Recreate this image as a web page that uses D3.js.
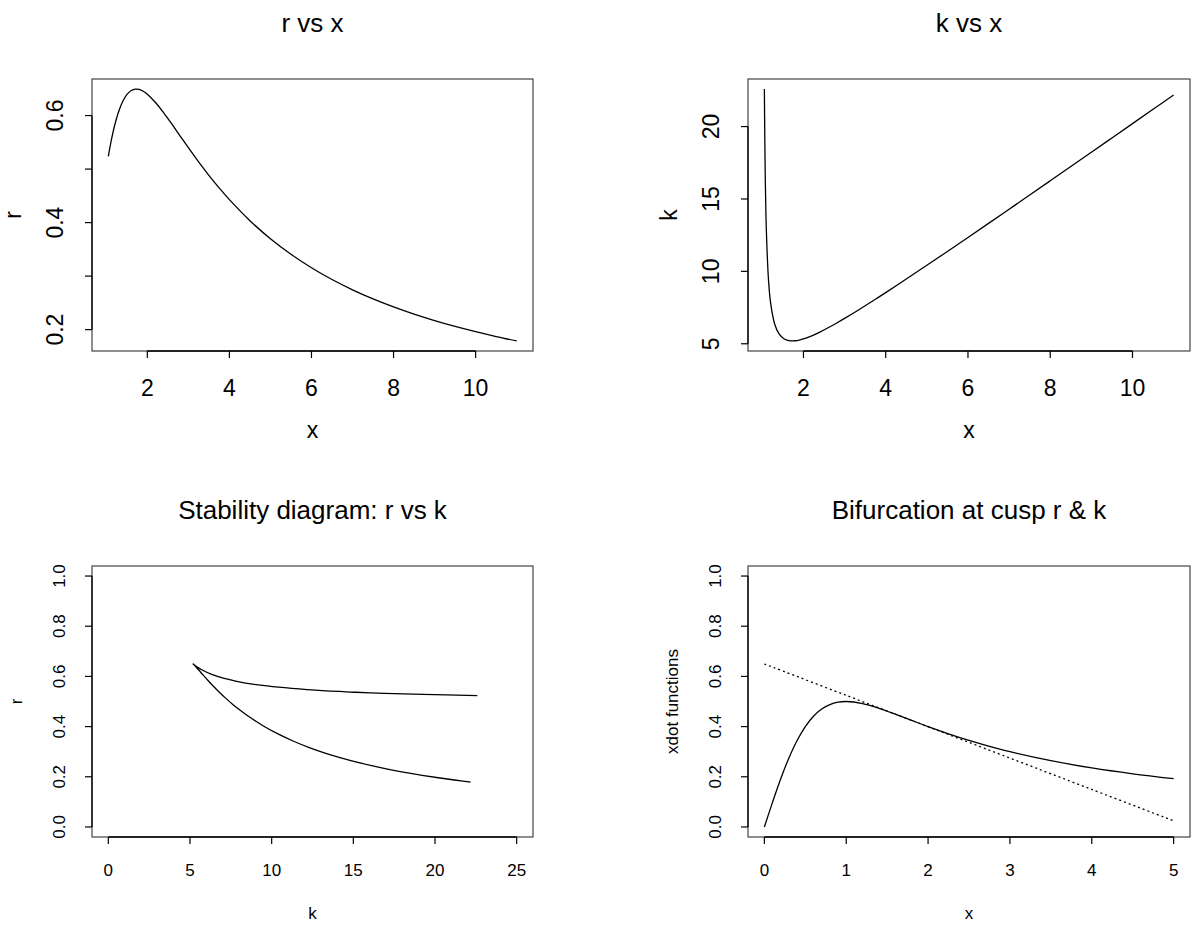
<!DOCTYPE html>
<html>
<head>
<meta charset="utf-8">
<script src="https://cdn.jsdelivr.net/npm/d3@7"></script>
<style>
  body { margin: 0; background: #fff; }
  text { font-family: "Liberation Sans", Arial, Helvetica, sans-serif; fill: #000; }
</style>
</head>
<body>
<div id="chart"></div>
<script>
// x values along the equilibrium curve
const xVals = [1.05, 1.06, 1.07, 1.08, 1.1, 1.15, 1.2, 1.3, 1.4, 1.5, 1.6, 1.7, 1.732, 1.8, 1.9, 2.0,
  2.2, 2.4, 2.6, 2.8, 3.0, 3.25, 3.5, 3.75, 4.0, 4.5, 5.0, 5.5, 6.0, 6.5, 7.0, 7.5, 8.0, 8.5,
  9.0, 9.5, 10.0, 10.5, 11.0];
const rVals = [0.5238, 0.5282, 0.5326, 0.5368, 0.5450, 0.5639, 0.5805, 0.6072, 0.6264, 0.6391,
  0.6464, 0.6493, 0.6495, 0.6488, 0.6455, 0.64, 0.6244, 0.6050, 0.5838, 0.5618, 0.54, 0.5135,
  0.4884, 0.4649, 0.4429, 0.4036, 0.3698, 0.3407, 0.3156, 0.2936, 0.2744, 0.2574, 0.2424,
  0.2289, 0.2168, 0.2059, 0.1961, 0.1871, 0.1789];
const kVals = [22.59, 19.27, 16.91, 15.14, 12.68, 9.43, 7.855, 6.368, 5.717, 5.4, 5.251, 5.199,
  5.196, 5.207, 5.256, 5.333, 5.546, 5.808, 6.103, 6.419, 6.75, 7.18, 7.622, 8.074, 8.533,
  9.468, 10.417, 11.376, 12.343, 13.315, 14.292, 15.271, 16.254, 17.239, 18.225, 19.213,
  20.202, 21.192, 22.183];

// bifurcation panel
const xdotX = [0, 0.1, 0.2, 0.3, 0.4, 0.5, 0.6, 0.7, 0.8, 0.9, 1.0, 1.2, 1.4, 1.6, 1.8, 2.0,
  2.25, 2.5, 2.75, 3.0, 3.5, 4.0, 4.5, 5.0];
const xdotCurve = [0, 0.099, 0.1923, 0.2752, 0.3448, 0.4, 0.4412, 0.4698, 0.4878, 0.4972, 0.5,
  0.4918, 0.473, 0.4494, 0.4245, 0.4, 0.3711, 0.3448, 0.3212, 0.3, 0.2642, 0.2353, 0.2118, 0.1923];
const lineX = [0, 1, 2, 3, 4, 5];
const lineY = [0.6495, 0.5245, 0.3995, 0.2745, 0.1495, 0.0245];

// ticks
const p1XTicks = [2, 4, 6, 8, 10];
const p1YTicks = [0.2, 0.3, 0.4, 0.5, 0.6];
const p1YLabels = [0.2, 0.4, 0.6];
const p2YTicks = [5, 10, 15, 20];
const p3XTicks = [0, 5, 10, 15, 20, 25];
const unitTicks = [0, 0.2, 0.4, 0.6, 0.8, 1.0];
const p4XTicks = [0, 1, 2, 3, 4, 5];

const W = 1193, H = 925;
const svg = d3.select("#chart").append("svg").attr("width", W).attr("height", H);

function pad(ext) {
  const d = (ext[1] - ext[0]) * 0.04;
  return [ext[0] - d, ext[1] + d];
}

function panel(o) {
  const g = svg.append("g");
  const x = d3.scaleLinear().domain(pad(o.xlim)).range([o.box[0], o.box[1]]);
  const y = d3.scaleLinear().domain(pad(o.ylim)).range([o.box[3], o.box[2]]);
  const [x0, x1, y0, y1] = o.box;

  g.append("rect")
    .attr("x", x0).attr("y", y0)
    .attr("width", x1 - x0).attr("height", y1 - y0)
    .attr("fill", "none").attr("stroke", "#444").attr("stroke-width", 1.2);

  // x axis
  g.append("line")
    .attr("x1", x(o.xTicks[0])).attr("x2", x(o.xTicks[o.xTicks.length - 1]))
    .attr("y1", y1).attr("y2", y1).attr("stroke", "#000").attr("stroke-width", 1.3);
  o.xTicks.forEach((t) => {
    g.append("line").attr("x1", x(t)).attr("x2", x(t)).attr("y1", y1).attr("y2", y1 + 7)
      .attr("stroke", "#000").attr("stroke-width", 1.2);
    g.append("text").attr("x", x(t)).attr("y", y1 + o.tickGap)
      .attr("text-anchor", "middle").attr("dominant-baseline", "central")
      .style("font-size", o.tickSize + "px").text(o.xFmt(t));
  });

  // y axis
  g.append("line")
    .attr("y1", y(o.yTicks[0])).attr("y2", y(o.yTicks[o.yTicks.length - 1]))
    .attr("x1", x0).attr("x2", x0).attr("stroke", "#000").attr("stroke-width", 1.3);
  o.yTicks.forEach((t) => {
    g.append("line").attr("y1", y(t)).attr("y2", y(t)).attr("x1", x0).attr("x2", x0 - 7)
      .attr("stroke", "#000").attr("stroke-width", 1.2);
  });
  o.yLabels.forEach((t) => {
    g.append("text")
      .attr("transform", `translate(${x0 - o.tickGap},${y(t)}) rotate(-90)`)
      .attr("text-anchor", "middle").attr("dominant-baseline", "central")
      .style("font-size", o.tickSize + "px").text(o.yFmt(t));
  });

  // labels and title
  g.append("text").attr("x", (x0 + x1) / 2).attr("y", y0 - 56)
    .attr("text-anchor", "middle").attr("dominant-baseline", "central")
    .style("font-size", "26px").text(o.title);
  g.append("text").attr("x", (x0 + x1) / 2).attr("y", y1 + o.labGap)
    .attr("text-anchor", "middle").attr("dominant-baseline", "central")
    .style("font-size", o.labSize + "px").text(o.xlab);
  g.append("text")
    .attr("transform", `translate(${x0 - o.labGap},${(y0 + y1) / 2}) rotate(-90)`)
    .attr("text-anchor", "middle").attr("dominant-baseline", "central")
    .style("font-size", o.labSize + "px").text(o.ylab);

  o.series.forEach((s) => {
    const line = d3.line()
      .x((d) => x(d[0])).y((d) => y(d[1]))
      .curve(d3.curveCatmullRom.alpha(0.5));
    g.append("path")
      .attr("d", line(d3.zip(s.xs, s.ys)))
      .attr("fill", "none").attr("stroke", "#000").attr("stroke-width", 1.3)
      .attr("stroke-dasharray", s.dash || null);
  });
}

const big = { tickSize: 23, labSize: 23, tickGap: 37, labGap: 79 };
const small = { tickSize: 17, labSize: 17, tickGap: 33, labGap: 76 };

panel(Object.assign({
  box: [92, 533, 79, 351],
  xlim: d3.extent(xVals), ylim: d3.extent(rVals),
  xTicks: p1XTicks, yTicks: p1YTicks, yLabels: p1YLabels,
  xFmt: d3.format("d"), yFmt: d3.format(".1f"),
  title: "r vs x", xlab: "x", ylab: "r",
  series: [{ xs: xVals, ys: rVals }]
}, big));

panel(Object.assign({
  box: [748, 1190, 79, 351],
  xlim: d3.extent(xVals), ylim: d3.extent(kVals),
  xTicks: p1XTicks, yTicks: p2YTicks, yLabels: p2YTicks,
  xFmt: d3.format("d"), yFmt: d3.format("d"),
  title: "k vs x", xlab: "x", ylab: "k",
  series: [{ xs: xVals, ys: kVals }]
}, big));

panel(Object.assign({
  box: [92, 533, 566, 837],
  xlim: [0, 25], ylim: [0, 1],
  xTicks: p3XTicks, yTicks: unitTicks, yLabels: unitTicks,
  xFmt: d3.format("d"), yFmt: d3.format(".1f"),
  title: "Stability diagram: r vs k", xlab: "k", ylab: "r",
  series: [{ xs: kVals, ys: rVals }]
}, small));

panel(Object.assign({
  box: [748, 1190, 566, 837],
  xlim: [0, 5], ylim: [0, 1],
  xTicks: p4XTicks, yTicks: unitTicks, yLabels: unitTicks,
  xFmt: d3.format("d"), yFmt: d3.format(".1f"),
  title: "Bifurcation at cusp r & k", xlab: "x", ylab: "xdot functions",
  series: [{ xs: xdotX, ys: xdotCurve }, { xs: lineX, ys: lineY, dash: "2,3" }]
}, small));
</script>
</body>
</html>
